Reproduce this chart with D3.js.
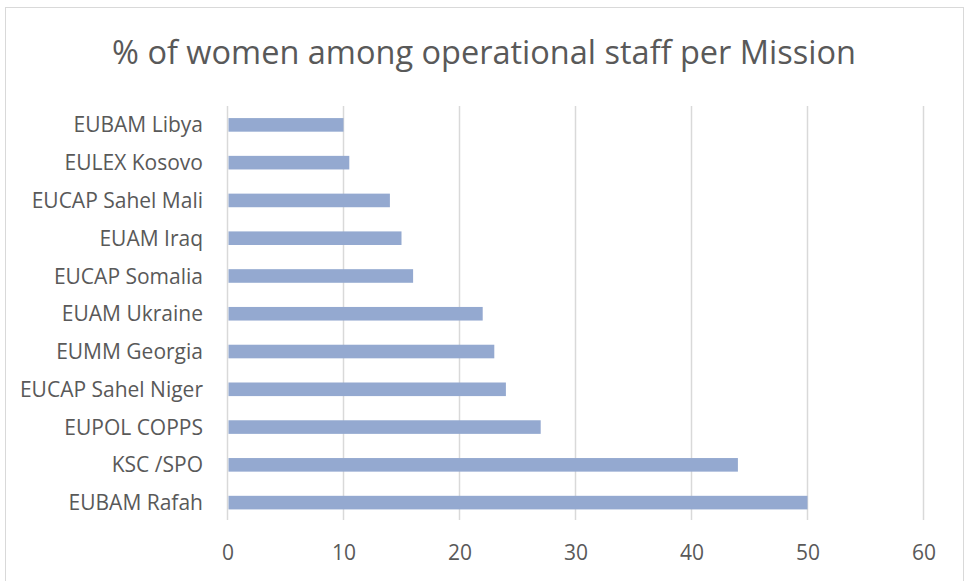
<!DOCTYPE html>
<html>
<head>
<meta charset="utf-8">
<script src="https://cdn.jsdelivr.net/npm/d3@7/dist/d3.min.js"></script>
<style>
  html, body { margin: 0; padding: 0; background: #fff; }
  svg { display: block; }
  text { font-family: "Open Sans", "Noto Sans", sans-serif; fill: #595959; }
</style>
</head>
<body>
<svg id="chart" width="965" height="581"></svg>
<script>
const title = "% of women among operational staff per Mission";
const categories = ["EUBAM Libya", "EULEX Kosovo", "EUCAP Sahel Mali", "EUAM Iraq", "EUCAP Somalia",
  "EUAM Ukraine", "EUMM Georgia", "EUCAP Sahel Niger", "EUPOL COPPS ", "KSC /SPO", "EUBAM Rafah"];
const values = [10, 10.5, 14, 15, 16, 22, 23, 24, 27, 44, 50];
const xTicks = [0, 10, 20, 30, 40, 50, 60];

const svg = d3.select("#chart");

// chart border
svg.append("rect")
  .attr("x", 5.5).attr("y", 7.5)
  .attr("width", 958).attr("height", 585)
  .attr("fill", "none").attr("stroke", "#d9d9d9").attr("stroke-width", 1);

const plot = { left: 227.5, right: 923.5, top: 106, bottom: 521.5 };

const x = d3.scaleLinear().domain([0, 60]).range([plot.left, plot.right]);
const y = d3.scaleBand().domain(categories).range([plot.top, plot.bottom]).paddingInner(0.64).paddingOuter(0.32);

// title
svg.append("text")
  .attr("x", 484).attr("y", 64)
  .attr("text-anchor", "middle")
  .style("font-size", "32.5px")
  .text(title);

// gridlines
svg.append("g")
  .selectAll("line")
  .data(xTicks)
  .join("line")
  .attr("x1", d => x(d)).attr("x2", d => x(d))
  .attr("y1", plot.top).attr("y2", 520)
  .attr("stroke", "#d9d9d9").attr("stroke-width", 1.5);

// bars
svg.append("g")
  .selectAll("rect")
  .data(values)
  .join("rect")
  .attr("x", x(0) + 1)
  .attr("y", (d, i) => y(categories[i]))
  .attr("width", d => x(d) - x(0) - 1)
  .attr("height", y.bandwidth())
  .attr("fill", "#94a9d0");

// x axis labels
const xAxis = d3.axisBottom(x).tickValues(xTicks).tickSize(0).tickPadding(0);
const gx = svg.append("g").attr("transform", "translate(0,545)").call(xAxis);
gx.select(".domain").remove();
gx.selectAll("text")
  .attr("dy", "0.72em")
  .style("font-size", "21px")
  .style("font-family", "'Open Sans', sans-serif")
  .attr("fill", "#595959");

// y axis labels
const yAxis = d3.axisLeft(y).tickSize(0).tickPadding(0);
const gy = svg.append("g").attr("transform", "translate(203,0)").call(yAxis);
gy.select(".domain").remove();
gy.selectAll("text")
  .attr("dy", "0.36em")
  .style("font-size", "21px")
  .style("font-family", "'Open Sans', sans-serif")
  .attr("fill", "#595959");
</script>
</body>
</html>
